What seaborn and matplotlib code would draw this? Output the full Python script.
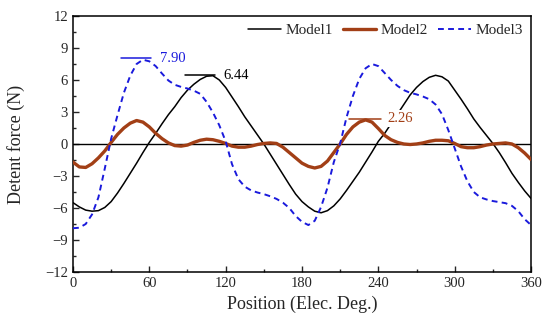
import numpy as np
import pandas as pd
import matplotlib
matplotlib.use("Agg")
import matplotlib.pyplot as plt
import seaborn as sns

# Detent force over one electrical period
position = [0, 5, 10, 15, 20, 25, 30, 35, 40, 45, 50, 55, 60, 65, 70, 75, 80, 85,
            90, 95, 100, 105, 110, 115, 120, 125, 130, 135, 140, 145, 150, 155, 160, 165, 170, 175,
            180, 185, 190, 195, 200, 205, 210, 215, 220, 225, 230, 235, 240, 245, 250, 255, 260, 265,
            270, 275, 280, 285, 290, 295, 300, 305, 310, 315, 320, 325, 330, 335, 340, 345, 350, 355, 360]

model1 = [-5.5, -5.9, -6.2, -6.3, -6.25, -5.95, -5.4, -4.6, -3.7, -2.75, -1.8, -0.8, 0.15, 1.0, 1.9, 2.75, 3.5, 4.35,
          5.05, 5.6, 6.05, 6.35, 6.4, 6.0, 5.3, 4.4, 3.5, 2.55, 1.7, 0.85, 0.0, -0.95, -1.9, -2.85, -3.8, -4.7,
          -5.4, -5.9, -6.3, -6.45, -6.25, -5.8, -5.15, -4.35, -3.5, -2.65, -1.7, -0.75, 0.25, 1.0, 1.9, 2.8, 3.7, 4.6,
          5.3, 5.85, 6.25, 6.44, 6.3, 5.9, 5.05, 4.2, 3.3, 2.35, 1.55, 0.8, 0.05, -0.8, -1.75, -2.75, -3.6, -4.4, -5.1]

model2 = [-1.7, -2.15, -2.2, -1.85, -1.3, -0.65, 0.15, 0.9, 1.5, 1.95, 2.2, 2.05, 1.6, 1.0, 0.5, 0.1, -0.15, -0.2,
          -0.1, 0.15, 0.35, 0.45, 0.4, 0.25, 0.05, -0.2, -0.3, -0.3, -0.2, -0.05, 0.05, 0.1, 0.05, -0.3, -0.8, -1.3,
          -1.8, -2.1, -2.25, -2.1, -1.6, -0.8, 0.0, 0.9, 1.6, 2.05, 2.26, 2.05, 1.45, 0.8, 0.4, 0.15, 0.0, -0.05,
          0.0, 0.1, 0.25, 0.35, 0.35, 0.3, 0.05, -0.25, -0.35, -0.35, -0.25, -0.1, 0.0, 0.05, 0.1, 0.0, -0.35, -0.85, -1.45]

model3 = [-7.9, -7.85, -7.5, -6.6, -5.0, -2.3, 0.5, 2.7, 4.8, 6.4, 7.5, 7.9, 7.75, 7.3, 6.6, 5.95, 5.55, 5.35,
          5.2, 5.0, 4.7, 3.95, 2.95, 1.75, 0.25, -1.9, -3.3, -4.0, -4.35, -4.55, -4.7, -4.9, -5.15, -5.5, -6.0, -6.75,
          -7.3, -7.6, -7.2, -5.9, -4.1, -1.7, 0.05, 2.5, 4.5, 6.1, 7.1, 7.5, 7.3, 6.65, 6.0, 5.45, 5.05, 4.8,
          4.65, 4.45, 4.2, 3.7, 2.8, 1.3, -0.4, -2.1, -3.5, -4.5, -5.0, -5.2, -5.35, -5.45, -5.55, -5.8, -6.3, -7.05, -7.6]

# peak value labels for Model3, Model1, Model2
peak_labels = ["7.90", "6.44", "2.26"]

df = pd.DataFrame({"Position": position, "Model1": model1, "Model2": model2, "Model3": model3})
long_df = df.melt(id_vars="Position", var_name="Model", value_name="Force")

sns.set_style("ticks")
plt.rcParams["font.family"] = ["Liberation Serif", "DejaVu Serif"]
plt.rcParams["xtick.direction"] = "in"
plt.rcParams["ytick.direction"] = "in"

colors = {"Model1": "black", "Model2": "#a23f16", "Model3": "#1a1adc"}
widths = {"Model1": 1.1, "Model2": 2.4, "Model3": 1.4}

fig = plt.figure(figsize=(5.5, 3.29), dpi=100)
ax = fig.add_axes([0.1327, 0.1733, 0.8328, 0.7781])

ax.axhline(0, color="black", lw=1.0, zorder=1)

for name in ["Model1", "Model2", "Model3"]:
    sub = long_df[long_df["Model"] == name]
    sns.lineplot(data=sub, x="Position", y="Force", ax=ax, color=colors[name],
                 lw=widths[name], label=name, sort=False, zorder=3)

ax.lines[-1].set_dashes([3, 2.2])

# peak markers and values
ax.plot([37.5, 61.5], [8.1, 8.1], color=colors["Model3"], lw=1.1)
ax.text(68, 8.0, peak_labels[0], color=colors["Model3"], fontsize=10.5, va="center")
ax.plot([88, 112], [6.47, 6.47], color="black", lw=1.1)
ax.text(118, 6.45, peak_labels[1], color="black", fontsize=10.5, va="center")
ax.plot([217, 242], [2.38, 2.38], color=colors["Model2"], lw=1.1, zorder=4)
ax.text(247, 2.38, peak_labels[2], color=colors["Model2"], fontsize=10.5, va="center", zorder=5,
        bbox=dict(facecolor="white", edgecolor="none", pad=1.5))

ax.set_xlim(0, 360)
ax.set_ylim(-12, 12)
ax.set_xticks(np.arange(0, 361, 60))
ax.set_xticks(np.arange(30, 361, 60), minor=True)
ax.set_yticks(np.arange(-12, 13, 3))
ax.set_yticks(np.arange(-10.5, 12, 3), minor=True)
ax.tick_params(which="major", length=4, width=1, labelsize=10.5, top=False, right=False)
ax.tick_params(which="minor", length=2, width=1, top=False, right=False)
for s in ax.spines.values():
    s.set_linewidth(1.1)
    s.set_color("black")

ax.set_xlabel("Position (Elec. Deg.)", fontsize=13)
ax.set_ylabel("Detent force (N)", fontsize=13)
ax.yaxis.set_label_coords(-0.105, 0.5)

leg = ax.legend(loc="upper right", ncol=3, frameon=False, fontsize=11,
                handlelength=2.15, columnspacing=0.65, handletextpad=0.3,
                bbox_to_anchor=(1.012, 1.025))
for h, name in zip(leg.get_lines(), ["Model1", "Model2", "Model3"]):
    h.set_linewidth(widths[name])
leg.get_lines()[2].set_dashes([3, 2.2])

fig.savefig("out.png", dpi=100)
